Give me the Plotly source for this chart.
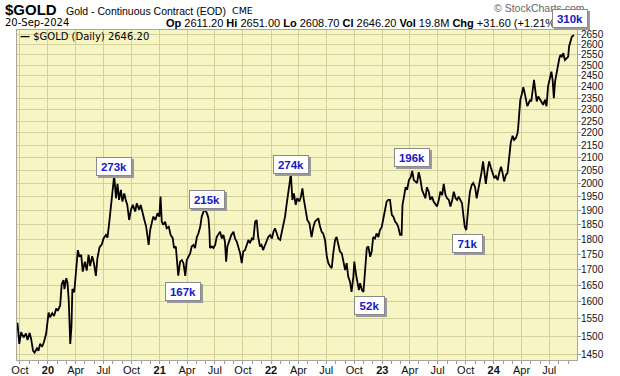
import plotly.graph_objects as go
import math

dates = [
"2019-09-23","2019-09-29","2019-10-05","2019-10-13","2019-10-21","2019-10-26","2019-11-02","2019-11-07","2019-11-13","2019-11-18",
"2019-11-26","2019-12-01","2019-12-06","2019-12-13","2019-12-19","2019-12-26","2020-01-03","2020-01-08","2020-01-15","2020-01-21",
"2020-01-28","2020-02-02","2020-02-10","2020-02-15","2020-02-21","2020-02-24","2020-03-01","2020-03-05","2020-03-09","2020-03-14",
"2020-03-18","2020-03-21","2020-03-27","2020-04-01","2020-04-08","2020-04-13","2020-04-19","2020-04-24","2020-05-01","2020-05-07",
"2020-05-13","2020-05-18","2020-05-25","2020-05-31","2020-06-06","2020-06-11","2020-06-18","2020-06-26","2020-07-01","2020-07-09",
"2020-07-14","2020-07-19","2020-07-25","2020-07-29","2020-08-05","2020-08-11","2020-08-16","2020-08-21","2020-08-27","2020-09-01",
"2020-09-07","2020-09-12","2020-09-17","2020-09-23","2020-09-29","2020-10-05","2020-10-13","2020-10-18","2020-10-26","2020-10-31",
"2020-11-07","2020-11-12","2020-11-18","2020-11-23","2020-11-26","2020-12-01","2020-12-06","2020-12-11","2020-12-18","2020-12-25",
"2020-12-31","2021-01-04","2021-01-08","2021-01-13","2021-01-19","2021-01-24","2021-01-31","2021-02-06","2021-02-13","2021-02-17",
"2021-02-23","2021-02-26","2021-03-03","2021-03-09","2021-03-15","2021-03-20","2021-03-26","2021-03-31","2021-04-05","2021-04-11",
"2021-04-16","2021-04-22","2021-04-27","2021-05-03","2021-05-08","2021-05-14","2021-05-19","2021-05-25","2021-05-30","2021-06-05",
"2021-06-10","2021-06-13","2021-06-15","2021-06-21","2021-06-26","2021-07-02","2021-07-07","2021-07-13","2021-07-18","2021-07-24",
"2021-07-29","2021-08-03","2021-08-07","2021-08-11","2021-08-17","2021-08-24","2021-08-31","2021-09-05","2021-09-11","2021-09-16",
"2021-09-22","2021-09-27","2021-10-02","2021-10-08","2021-10-13","2021-10-19","2021-10-24","2021-10-30","2021-11-04","2021-11-10",
"2021-11-15","2021-11-20","2021-11-26","2021-12-01","2021-12-06","2021-12-12","2021-12-18","2021-12-23","2021-12-29","2022-01-04",
"2022-01-09","2022-01-14","2022-01-20","2022-01-25","2022-01-31","2022-02-05","2022-02-10","2022-02-16","2022-02-21","2022-02-27",
"2022-03-04","2022-03-07","2022-03-09","2022-03-12","2022-03-17","2022-03-23","2022-03-28","2022-04-04","2022-04-09","2022-04-14",
"2022-04-18","2022-04-24","2022-04-30","2022-05-07","2022-05-14","2022-05-20","2022-05-25","2022-05-31","2022-06-05","2022-06-11",
"2022-06-16","2022-06-21","2022-06-27","2022-07-03","2022-07-08","2022-07-14","2022-07-19","2022-07-24","2022-07-30","2022-08-04",
"2022-08-10","2022-08-15","2022-08-21","2022-08-26","2022-09-01","2022-09-06","2022-09-11","2022-09-17","2022-09-22","2022-09-28",
"2022-10-01","2022-10-07","2022-10-11","2022-10-16","2022-10-20","2022-10-26","2022-10-31","2022-11-05","2022-11-11","2022-11-16",
"2022-11-22","2022-11-27","2022-12-02","2022-12-08","2022-12-13","2022-12-19","2022-12-24","2022-12-30","2023-01-04","2023-01-09",
"2023-01-15","2023-01-20","2023-01-26","2023-02-01","2023-02-06","2023-02-12","2023-02-17","2023-02-22","2023-02-28","2023-03-05",
"2023-03-08","2023-03-12","2023-03-18","2023-03-23","2023-03-29","2023-04-04","2023-04-09","2023-04-14","2023-04-20","2023-04-25",
"2023-04-30","2023-05-05","2023-05-11","2023-05-16","2023-05-22","2023-05-27","2023-06-02","2023-06-07","2023-06-13","2023-06-18",
"2023-06-24","2023-06-29","2023-07-05","2023-07-10","2023-07-16","2023-07-21","2023-07-27","2023-08-01","2023-08-07","2023-08-12",
"2023-08-18","2023-08-23","2023-08-29","2023-09-03","2023-09-08","2023-09-14","2023-09-19","2023-09-24","2023-09-28","2023-10-03",
"2023-10-07","2023-10-10","2023-10-15","2023-10-21","2023-10-26","2023-11-01","2023-11-06","2023-11-11","2023-11-17","2023-11-22",
"2023-11-27","2023-12-01","2023-12-06","2023-12-12","2023-12-17","2023-12-23","2023-12-28","2024-01-03","2024-01-08","2024-01-14",
"2024-01-19","2024-01-25","2024-01-30","2024-02-04","2024-02-10","2024-02-15","2024-02-21","2024-02-26","2024-03-03","2024-03-08",
"2024-03-14","2024-03-19","2024-03-21","2024-03-25","2024-03-28","2024-04-02","2024-04-07","2024-04-11","2024-04-15","2024-04-20",
"2024-04-24","2024-04-29","2024-05-03","2024-05-08","2024-05-12","2024-05-16","2024-05-21","2024-05-26","2024-06-01","2024-06-06",
"2024-06-11","2024-06-17","2024-06-22","2024-06-27","2024-07-03","2024-07-08","2024-07-12","2024-07-16","2024-07-20","2024-07-25",
"2024-07-29","2024-08-03","2024-08-07","2024-08-11","2024-08-16","2024-08-21","2024-08-27","2024-09-01","2024-09-04","2024-09-09",
"2024-09-13","2024-09-20",
]

prices = [
1538,1478,1511,1496,1507,1489,1509,1491,1459,1454,
1466,1459,1478,1470,1484,1507,1568,1554,1566,1558,
1580,1573,1589,1654,1667,1639,1673,1659,1606,1478,
1527,1639,1629,1688,1764,1742,1748,1694,1726,1697,
1748,1712,1744,1719,1680,1737,1773,1784,1803,1815,
1806,1850,1915,1976,2030,1945,1999,1939,1976,1933,
1963,1939,1921,1867,1903,1921,1897,1927,1903,1921,
1885,1867,1843,1808,1781,1832,1856,1879,1867,1891,
1879,1951,1861,1850,1861,1838,1843,1815,1804,1771,
1776,1738,1681,1726,1731,1721,1680,1731,1742,1753,
1776,1781,1771,1808,1820,1843,1879,1897,1903,1891,
1873,1832,1771,1776,1771,1781,1808,1820,1826,1803,
1815,1792,1726,1776,1792,1815,1826,1803,1792,1771,
1753,1721,1759,1764,1781,1798,1787,1803,1798,1861,
1867,1808,1776,1781,1764,1781,1798,1808,1815,1803,
1826,1838,1820,1803,1798,1820,1843,1879,1921,1963,
2010,2040,1995,1939,1963,1921,1945,1933,1951,1982,
1945,1903,1867,1855,1808,1843,1861,1867,1873,1843,
1826,1820,1798,1742,1721,1710,1705,1753,1798,1808,
1781,1759,1753,1731,1699,1721,1678,1662,1630,1678,
1726,1683,1657,1636,1657,1636,1630,1710,1771,1776,
1742,1759,1808,1803,1820,1808,1832,1843,1873,1909,
1933,1939,1939,1885,1879,1861,1855,1843,1815,1815,
1921,1945,1986,1976,2013,2024,2048,2013,2008,2002,
2043,2020,1976,1963,1945,1986,1969,1939,1951,1933,
1921,1915,1939,1969,1957,1999,1957,1945,1939,1915,
1939,1969,1945,1939,1951,1939,1927,1879,1843,1832,
1867,1915,1969,1995,2002,1986,1945,1976,1999,2043,
2085,2033,1999,2052,2085,2059,2040,2020,2028,2013,
2040,2064,2040,2008,2033,2040,2104,2163,2188,2171,
2180,2200,2220,2279,2342,2367,2398,2375,2352,2314,
2325,2342,2335,2386,2432,2386,2335,2357,2342,2329,
2320,2342,2314,2402,2432,2470,2432,2349,2424,2462,
2501,2533,2549,2541,2557,2525,2533,2541,2590,2614,
2638,2646.2,
]

tick_dates = ["2019-10-01","2020-01-01","2020-04-01","2020-07-01","2020-10-01",
              "2021-01-01","2021-04-01","2021-07-01","2021-10-01",
              "2022-01-01","2022-04-01","2022-07-01","2022-10-01",
              "2023-01-01","2023-04-01","2023-07-01","2023-10-01",
              "2024-01-01","2024-04-01","2024-07-01"]
tick_text = ["Oct","<b>20</b>","Apr","Jul","Oct","<b>21</b>","Apr","Jul","Oct",
             "<b>22</b>","Apr","Jul","Oct","<b>23</b>","Apr","Jul","Oct",
             "<b>24</b>","Apr","Jul"]
y_ticks = list(range(1450, 2651, 50))

# volume-style labels: (text, date, side, xshift, yshift)
labels = [("273k","2020-08-05","bottom",0,0),
          ("215k","2021-05-30","bottom",1.5,1),
          ("167k","2021-03-03","top",5,-6),
          ("274k","2022-03-07","bottom",0,-1),
          ("196k","2023-04-09","bottom",0,4),
          ("71k","2023-10-03","top",1,-4),
          ("52k","2022-10-31","top",6,-4),
          ("310k","2024-09-20","bottom",-3.5,7)]

W, H = 620, 376
L, R, T, B = 17, 43, 30, 16
pw, ph = W - L - R, H - T - B

def px(x):
    return (x - L) / pw

def py(y):
    return (H - B - y) / ph

fig = go.Figure()
fig.add_trace(go.Scatter(x=dates, y=prices, mode="lines",
                         line=dict(color="black", width=1.8), hoverinfo="skip",
                         showlegend=False))

grid = "#D4D09C"
fig.update_layout(
    width=W, height=H, margin=dict(l=L, r=R, t=T, b=B, autoexpand=False),
    paper_bgcolor="white", plot_bgcolor="#F8F5C4",
    font=dict(family="Arial, Liberation Sans", size=11, color="#111"),
    xaxis=dict(type="date", range=["2019-09-21 12:00", "2024-09-29 22:00"],
               tickmode="array", tickvals=tick_dates, ticktext=tick_text,
               showgrid=True, gridcolor=grid, gridwidth=1, automargin=False,
               showline=True, linecolor="#A8A8A0", mirror=True,
               ticks="", tickfont=dict(size=11, family="Arial, Liberation Sans", color="#111"),
               zeroline=False, fixedrange=True,
               minor=dict(ticks="outside", ticklen=3, tickcolor="#999", dtick="M1",
                          tick0="2019-10-01", showgrid=False)),
    yaxis=dict(type="log", range=[math.log10(1433.7), math.log10(2671.6)],
               side="right", tickmode="array", tickvals=y_ticks,
               ticktext=[str(v) for v in y_ticks], automargin=False,
               showgrid=True, gridcolor=grid, gridwidth=1,
               showline=True, linecolor="#A8A8A0", mirror=True,
               ticks="outside", ticklen=3, tickcolor="#999", ticklabelstandoff=-2,
               tickfont=dict(size=10, family="Arial, Liberation Sans", color="#111"),
               zeroline=False, fixedrange=True),
)

ann = []
# header
ann.append(dict(xref="paper", yref="paper", x=px(3), y=py(9.5), xanchor="left", yanchor="middle",
                text="<b>$GOLD</b>", showarrow=False,
                font=dict(family="Arial, Liberation Sans", size=15, color="black")))
ann.append(dict(xref="paper", yref="paper", x=px(64), y=py(11), xanchor="left", yanchor="middle",
                text="Gold - Continuous Contract (EOD)", showarrow=False,
                font=dict(family="Arial, Liberation Sans", size=10.5, color="black")))
ann.append(dict(xref="paper", yref="paper", x=px(230), y=py(11), xanchor="left", yanchor="middle",
                text="CME", showarrow=False,
                font=dict(family="DejaVu Sans", size=9.5, color="black")))
ann.append(dict(xref="paper", yref="paper", x=px(587), y=py(8), xanchor="right", yanchor="middle",
                text="© StockCharts.com", showarrow=False,
                font=dict(family="Arial, Liberation Sans", size=10.5, color="#666")))
ann.append(dict(xref="paper", yref="paper", x=px(3), y=py(23), xanchor="left", yanchor="middle",
                text="20-Sep-2024", showarrow=False,
                font=dict(family="DejaVu Sans", size=10, color="black")))
ann.append(dict(xref="paper", yref="paper", x=px(164), y=py(22.5), xanchor="left", yanchor="middle",
                text="<b>Op</b> 2611.20 <b>Hi</b> 2651.00 <b>Lo</b> 2608.70 <b>Cl</b> 2646.20 "
                     "<b>Vol</b> 19.8M <b>Chg</b> +31.60 (+1.21%)",
                showarrow=False,
                font=dict(family="Arial, Liberation Sans", size=11, color="black")))
# in-plot legend
ann.append(dict(xref="paper", yref="paper", x=px(18), y=py(36), xanchor="left", yanchor="middle",
                text="<b>—</b> $GOLD (Daily) 2646.20", showarrow=False,
                font=dict(family="DejaVu Sans", size=10, color="black")))

for text, d, side, xs, ys in labels:
    p = prices[dates.index(d)]
    w = 32 if len(text) == 4 else 27
    common = dict(x=d, y=math.log10(p), xref="x", yref="y", showarrow=False,
                  xanchor="center", yanchor=side, width=w, height=15,
                  borderpad=1, borderwidth=1)
    ann.append(dict(common, text=" ", xshift=xs + 2, yshift=ys - 2,
                    bgcolor="#9a9a9a", bordercolor="#9a9a9a",
                    font=dict(family="Arial, Liberation Sans", size=11, color="#9a9a9a")))
    ann.append(dict(common, text="<b>" + text + "</b>", xshift=xs, yshift=ys,
                    bgcolor="white", bordercolor="#8a8a8a",
                    font=dict(family="Arial, Liberation Sans", size=11.5, color="#1818C0")))

fig.update_layout(annotations=ann)
fig.write_html("out.html", config={"displayModeBar": False, "staticPlot": True},
               post_script="document.body.style.margin='0';document.body.style.padding='0';")
